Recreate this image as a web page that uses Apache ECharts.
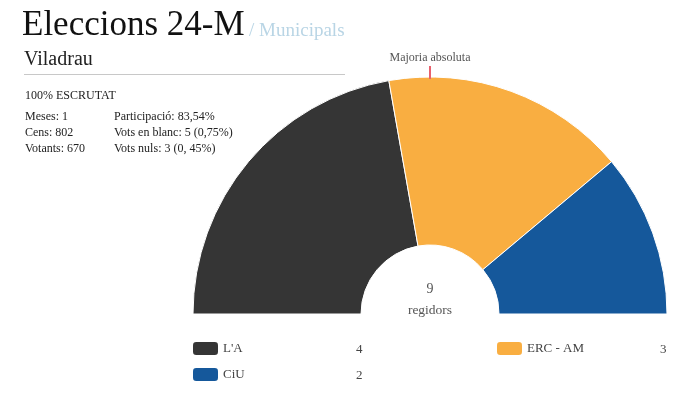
<!DOCTYPE html>
<html>
<head>
<meta charset="utf-8">
<style>
html, body { margin: 0; padding: 0; background: #fff; }
#chart { width: 700px; height: 400px; }
</style>
<script src="https://cdn.jsdelivr.net/npm/echarts@6/dist/echarts.min.js"></script>
</head>
<body>
<div id="chart"></div>
<script>
var parties = ["L'A", 'ERC - AM', 'CiU'];
var seats = [4, 3, 2];
var colors = ['#353535', '#f9ae41', '#15589b'];
var statsLeft = ['Meses: 1', 'Cens: 802', 'Votants: 670'];
var statsRight = ['Participació: 83,54%', 'Vots en blanc: 5 (0,75%)', 'Vots nuls: 3 (0, 45%)'];

var serif = '"Liberation Serif", "Times New Roman", serif';
var legendPos = [[193, 342], [497, 342], [193, 368]];
var valuePos = [[356, 350], [660, 350], [356, 376]];

function label(x, y, text, size, color, align) {
    return {
        type: 'text',
        x: x,
        y: y,
        silent: true,
        style: {
            text: text,
            font: size + 'px ' + serif,
            fill: color,
            textAlign: align || 'left',
            textVerticalAlign: 'middle'
        }
    };
}

var texts = [
    label(22, 26, 'Eleccions 24-M', 35, '#111'),
    label(249, 31, '/ Municipals', 19, '#b9d5e5'),
    label(24, 60, 'Viladrau', 20, '#222'),
    label(25, 96, '100% ESCRUTAT', 12, '#222'),
    label(430, 58, 'Majoria absoluta', 12, '#555', 'center'),
    label(430, 289, String(seats.reduce(function (a, b) { return a + b; }, 0)), 14, '#555', 'center'),
    label(430, 310, 'regidors', 13.5, '#555', 'center'),
    {
        type: 'line',
        silent: true,
        shape: { x1: 24, y1: 74.5, x2: 345, y2: 74.5 },
        style: { stroke: '#c8c8c8', lineWidth: 1 }
    },
    {
        type: 'line',
        silent: true,
        z: 10,
        shape: { x1: 430, y1: 66, x2: 430, y2: 79 },
        style: { stroke: '#e8606c', lineWidth: 2 }
    }
];

statsLeft.forEach(function (t, i) {
    texts.push(label(25, 117 + i * 16, t, 12, '#222'));
});
statsRight.forEach(function (t, i) {
    texts.push(label(114, 117 + i * 16, t, 12, '#222'));
});
seats.forEach(function (v, i) {
    texts.push(label(valuePos[i][0], valuePos[i][1], String(v), 13, '#444'));
});

var myChart = echarts.init(document.getElementById('chart'), null, { renderer: 'canvas' });

var option = {
    animation: false,
    backgroundColor: '#fff',
    color: colors,
    legend: parties.map(function (name, i) {
        return {
            data: [name],
            left: legendPos[i][0],
            top: legendPos[i][1],
            padding: 0,
            itemWidth: 25,
            itemHeight: 13,
            itemGap: 0,
            selectedMode: false,
            itemStyle: { borderWidth: 0 },
            textStyle: { fontFamily: serif, fontSize: 13, color: '#444', padding: [4, 0, 0, 0] }
        };
    }),
    series: [{
        type: 'pie',
        center: [430, 314],
        radius: [69, 237],
        startAngle: 180,
        endAngle: 0,
        silent: true,
        label: { show: false },
        labelLine: { show: false },
        itemStyle: { borderColor: '#fff', borderWidth: 1 },
        data: parties.map(function (name, i) {
            return { name: name, value: seats[i] };
        })
    }],
    graphic: texts
};

myChart.setOption(option);
</script>
</body>
</html>
